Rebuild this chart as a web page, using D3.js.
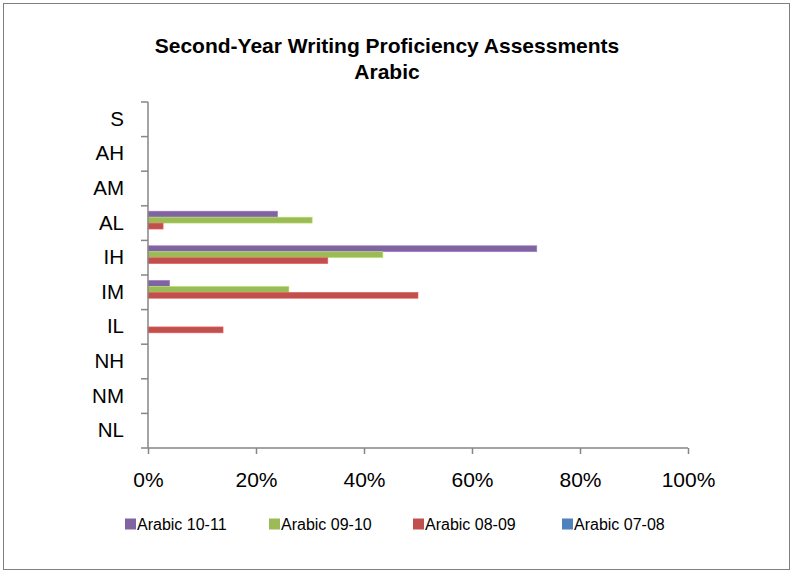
<!DOCTYPE html>
<html>
<head>
<meta charset="utf-8">
<script src="https://cdn.jsdelivr.net/npm/d3@7"></script>
<style>
  body { margin: 0; background: #fff; }
  svg text { font-family: "Liberation Sans", Arial, sans-serif; fill: #000; }
</style>
</head>
<body>
<div id="chart"></div>
<script>
// data (share of students per level)
var levels = ["NL", "NM", "NH", "IL", "IM", "IH", "AL", "AM", "AH", "S"];
var seriesNames = ["Arabic 10-11", "Arabic 09-10", "Arabic 08-09", "Arabic 07-08"];
var seriesColors = ["#8064a2", "#9bbb59", "#c0504d", "#4f81bd"];
var arabic1011 = [0, 0, 0, 0, 0.04, 0.72, 0.24, 0, 0, 0];
var arabic0910 = [0, 0, 0, 0, 0.261, 0.435, 0.304, 0, 0, 0];
var arabic0809 = [0, 0, 0, 0.139, 0.50, 0.333, 0.028, 0, 0, 0];
var arabic0708 = [0, 0, 0, 0, 0, 0, 0, 0, 0, 0];
var xTicks = [0, 0.2, 0.4, 0.6, 0.8, 1];

var allSeries = [arabic1011, arabic0910, arabic0809, arabic0708];

var width = 794, height = 574;
var svg = d3.select("#chart").append("svg")
  .attr("width", width)
  .attr("height", height);

// outer frame
svg.append("rect")
  .attr("x", 3.5).attr("y", 3.5)
  .attr("width", 786).attr("height", 566)
  .attr("fill", "#fff")
  .attr("stroke", "#7f7f7f")
  .attr("stroke-width", 1);

// title
var title = svg.append("text")
  .attr("text-anchor", "middle")
  .style("font-weight", "bold")
  .style("font-size", "21px");
title.append("tspan").attr("x", 387).attr("y", 53).text("Second-Year Writing Proficiency Assessments");
title.append("tspan").attr("x", 387).attr("y", 79).text("Arabic");

var plotLeft = 148, plotRight = 688, plotTop = 102, plotBottom = 448;

var x = d3.scaleLinear().domain([0, 1]).range([plotLeft, plotRight]);

// top of chart = S, bottom = NL
var y = d3.scaleBand()
  .domain(levels.slice().reverse())
  .range([plotTop, plotBottom])
  .paddingInner(0).paddingOuter(0);

var ySub = d3.scaleBand()
  .domain(seriesNames)
  .range([0, y.bandwidth()])
  .paddingInner(0)
  .paddingOuter(0.9);

// bars
seriesNames.forEach(function(name, s) {
  svg.append("g").selectAll("rect")
    .data(levels.map(function(l, i) { return {level: l, value: allSeries[s][i]}; }))
    .enter().append("rect")
    .attr("x", x(0))
    .attr("y", function(d) { return y(d.level) + ySub(name); })
    .attr("width", function(d) { return x(d.value) - x(0); })
    .attr("height", ySub.bandwidth())
    .attr("fill", seriesColors[s])
    .attr("stroke", function(d) { return d.value > 0 ? d3.color(seriesColors[s]).brighter(0.6) : "none"; })
    .attr("stroke-width", 0.6);
});

// y axis
var yAxis = d3.axisLeft(y).tickSize(7).tickPadding(17);
var yg = svg.append("g")
  .attr("transform", "translate(" + plotLeft + ",0)")
  .call(yAxis);
// excel places ticks at band boundaries, not centres
yg.selectAll(".tick line").remove();
yg.selectAll(".tick text").style("font-size", "20.5px");
var bounds = d3.range(levels.length + 1).map(function(i) { return plotTop + i * y.step(); });
yg.selectAll(".bound").data(bounds).enter().append("line")
  .attr("x1", -7).attr("x2", 0)
  .attr("y1", function(d) { return d; }).attr("y2", function(d) { return d; })
  .attr("stroke", "#868686").attr("stroke-width", 1.5);
yg.select(".domain").attr("d", "M0," + plotTop + "V" + plotBottom).attr("stroke", "#868686").attr("stroke-width", 1.5);

// x axis
var xAxis = d3.axisBottom(x).tickValues(xTicks).tickFormat(d3.format(".0%")).tickSize(6).tickPadding(18);
var xg = svg.append("g")
  .attr("transform", "translate(0," + plotBottom + ")")
  .call(xAxis);
xg.select(".domain").attr("d", "M" + plotLeft + ",0H" + plotRight).attr("stroke", "#868686").attr("stroke-width", 1.5);
xg.selectAll(".tick line").attr("stroke", "#868686").attr("stroke-width", 1.5);
xg.selectAll(".tick text").style("font-size", "21px");

// legend
var legendX = [125, 269, 413, 562];
var legend = svg.append("g").selectAll("g")
  .data(seriesNames)
  .enter().append("g")
  .attr("transform", function(d, i) { return "translate(" + legendX[i] + ",524)"; });
legend.append("rect")
  .attr("x", 0).attr("y", -5.5)
  .attr("width", 11).attr("height", 11)
  .attr("fill", function(d, i) { return seriesColors[i]; });
legend.append("text")
  .attr("x", 12).attr("y", 0)
  .attr("dy", "0.35em")
  .style("font-size", "16px")
  .text(function(d) { return d; });
</script>
</body>
</html>
